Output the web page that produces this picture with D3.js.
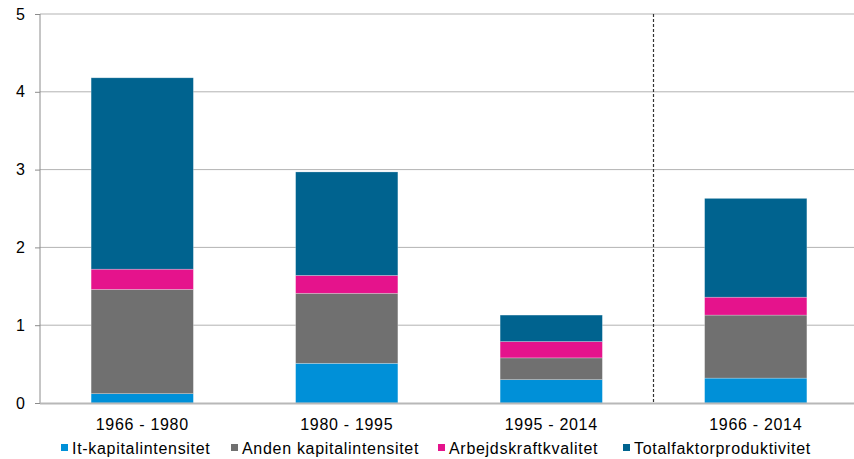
<!DOCTYPE html>
<html>
<head>
<meta charset="utf-8">
<script src="https://cdn.jsdelivr.net/npm/d3@7"></script>
<style>
  body { margin: 0; background: #fff; }
  svg text { font-family: "Liberation Sans", Arial, sans-serif; fill: #000; letter-spacing: 0.7px; }
</style>
</head>
<body>
<svg id="chart" width="854" height="459"></svg>
<script>
var categories = ["1966 - 1980", "1980 - 1995", "1995 - 2014", "1966 - 2014"];
var seriesNames = ["It-kapitalintensitet", "Anden kapitalintensitet", "Arbejdskraftkvalitet", "Totalfaktorproduktivitet"];
var itKapital = [0.12, 0.51, 0.30, 0.32];
var andenKapital = [1.34, 0.90, 0.28, 0.81];
var arbejdskraft = [0.26, 0.23, 0.21, 0.23];
var tfp = [2.46, 1.33, 0.34, 1.27];
var yTicks = [0, 1, 2, 3, 4, 5];
var colors = ["#0090d8", "#707070", "#e5138c", "#00638f"];

var margin = {top: 14, right: -4, bottom: 56, left: 40};
var w = 854 - margin.left - margin.right,
    h = 459 - margin.top - margin.bottom;

var rows = categories.map(function(c, i) {
  return {cat: c, s0: itKapital[i], s1: andenKapital[i], s2: arbejdskraft[i], s3: tfp[i]};
});
var stacked = d3.stack().keys(["s0", "s1", "s2", "s3"])(rows);

var svg = d3.select("#chart");
var g = svg.append("g").attr("transform", "translate(" + margin.left + "," + margin.top + ")");

var x = d3.scaleBand().domain(categories).range([0, w]).paddingInner(0.5).paddingOuter(0.25);
var y = d3.scaleLinear().domain([0, 5]).range([h, 0]);

// gridlines
g.selectAll(".grid").data(yTicks.slice(1)).enter().append("line")
  .attr("x1", 0).attr("x2", 854 - margin.left)
  .attr("y1", function(d) { return y(d); }).attr("y2", function(d) { return y(d); })
  .attr("stroke", "#b3b3b3").attr("stroke-width", 1);

// bars
g.selectAll(".layer").data(stacked).enter().append("g")
  .attr("fill", function(d, i) { return colors[i]; })
  .selectAll("rect").data(function(d) { return d; }).enter().append("rect")
  .attr("x", function(d) { return x(d.data.cat); })
  .attr("width", x.bandwidth())
  .attr("y", function(d) { return y(d[1]); })
  .attr("height", function(d) { return y(d[0]) - y(d[1]); })
  .attr("stroke", "#ffffff").attr("stroke-opacity", 0.35).attr("stroke-width", 0.7);

// dashed separator between 3rd and 4th category
var sepX = x(categories[3]) - x.step() * x.paddingInner() / 2;
g.append("line")
  .attr("x1", sepX).attr("x2", sepX).attr("y1", 0).attr("y2", h)
  .attr("stroke", "#333333").attr("stroke-dasharray", "3,2").attr("stroke-width", 1.2);

// y axis
var yAxis = d3.axisLeft(y).tickValues(yTicks).tickSize(5).tickPadding(10).tickFormat(d3.format("d"));
var ya = g.append("g").call(yAxis);
ya.select(".domain").attr("stroke", "#8c8c8c").attr("d", "M0," + h + "V0");
ya.selectAll(".tick line").attr("stroke", "#8c8c8c");
ya.selectAll("text").style("font-size", "16px").style("letter-spacing", "0px");

// x axis line
g.append("line").attr("x1", 0).attr("x2", 854 - margin.left).attr("y1", h + 0.5).attr("y2", h + 0.5)
  .attr("stroke", "#b8b8b8").attr("stroke-width", 2);

// category labels
g.selectAll(".cat").data(categories).enter().append("text")
  .attr("x", function(d) { return x(d) + x.bandwidth() / 2; })
  .attr("y", h + 27)
  .attr("text-anchor", "middle")
  .style("font-size", "16px")
  .text(function(d) { return d; });

// legend
var legendX = [61, 231, 438, 623];
var legend = svg.append("g").selectAll("g").data(seriesNames).enter().append("g")
  .attr("transform", function(d, i) { return "translate(" + legendX[i] + ",444)"; });
legend.append("rect").attr("width", 7).attr("height", 7).attr("y", 0)
  .attr("fill", function(d, i) { return colors[i]; });
legend.append("text").attr("x", 11).attr("y", 10).style("font-size", "16px")
  .text(function(d) { return d; });
</script>
</body>
</html>
